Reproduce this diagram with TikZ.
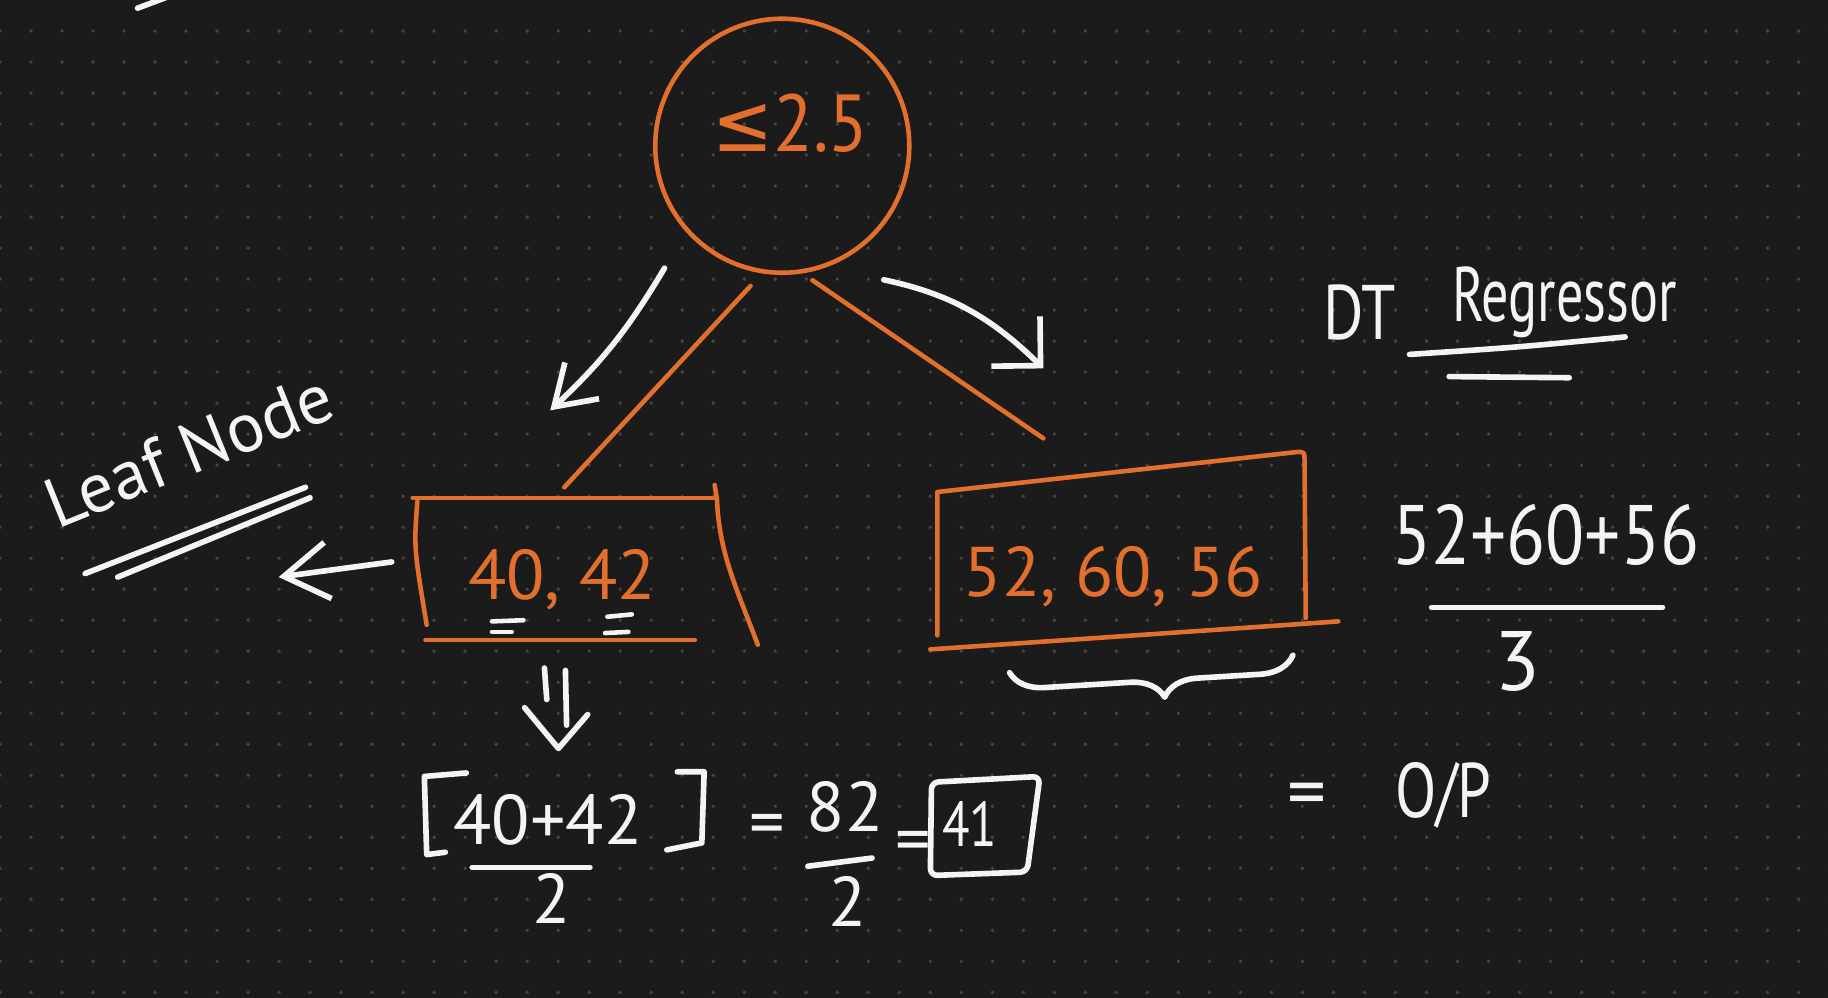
\documentclass[tikz,border=0pt]{standalone}
\usepackage{fontspec}
\usepackage{graphicx}
\setmainfont{PT Sans}
\newfontfamily\dejavu{DejaVu Sans}
\usetikzlibrary{arrows.meta,decorations.pathreplacing,positioning}

\definecolor{bgdark}{RGB}{27,27,27}
\definecolor{gridgrey}{RGB}{68,68,68}
\definecolor{leaforange}{RGB}{226,112,44}
\definecolor{chalk}{RGB}{244,244,244}

\newcommand{\handnarrow}[2]{\scalebox{#1}[1]{#2}}

\tikzset{
  hand/.style={font=\fontsize{20}{24}\selectfont},
  bighand/.style={font=\fontsize{22}{26}\selectfont},
  otext/.style={hand, text=leaforange, inner sep=0pt},
  wtext/.style={hand, text=chalk, inner sep=0pt},
  obranch/.style={draw=leaforange, line width=1.3pt, line cap=round, line join=round},
  wstroke/.style={draw=chalk, line width=1.6pt, line cap=round, line join=round},
  splitnode/.style={circle, draw=leaforange, line width=1.3pt, minimum size=25.4mm, inner sep=0pt},
}

\begin{document}
\begin{tikzpicture}[x=0.11658mm, y=-0.11658mm]

                % Board with dot grid
                \useasboundingbox (0,0) rectangle (1568,856);
                \fill[bgdark] (0,0) rectangle (1568,856);
                \foreach \i in {0,...,59} {
                    \foreach \j in {1,...,32} {
                        \fill[gridgrey] (\i*26.6,\j*26.6) circle[radius=0.55pt];
                    }
                }

                % Stroke cut off at the top
                \draw[wstroke] (118,7) -- (142,-2);

                % Root split
                \node[splitnode] (root) at (671,125) {};
                \node[otext, font=\fontsize{23}{27}\selectfont] (rootval) at (678,106) {\handnarrow{0.9}{{\dejavu ≤}2.5}};

                % Branches
                \coordinate (lefttip) at (484,418);
                \coordinate (righttip) at (895,376);
                \draw[obranch, shorten <=1.7mm] (root.261) -- (lefttip);
                \draw[obranch, shorten <=1.2mm] (root.279) -- (righttip);

                % Left leaf
                \node[otext] (leftval) at (482,497) {40, 42};
                \draw[obranch] (354,427) -- (615,427);
                \draw[obranch] (613,416) -- (615,429) .. controls (617,475) and (632,505) .. (650,553);
                \draw[obranch] (358,430) .. controls (355,470) .. (366,536);
                \draw[obranch] (365,549) -- (596,549);

                % Right leaf
                \node[otext] (rightval) at (955,495) {52, 60, 56};
                \draw[obranch] (804,545) -- (804,422) -- (1110,388) .. controls (1119,387) .. (1119,397) -- (1120,530);
                \draw[obranch] (798,557) -- (1148,533);

                % Ticks under the values
                \foreach \a/\b/\c/\d in {422/533/449/532, 422/542/439/542, 521/529/542/527, 519/543/539/542}
                    \draw[wstroke, line width=1.3pt] (\a,\b) -- (\c,\d);

                % Direction arrows
                \draw[wstroke, -{Straight Barb[angle=66:13pt]}] (570,230) to[bend left=8] (472,352);
                \draw[wstroke, -{Straight Barb[angle=90:14pt]}] (758,240) .. controls (815,252) and (850,272) .. (895,316);
                \draw[wstroke, -{Straight Barb[angle=65:15pt]}] (336,482) -- (239,495);

                % Leaf Node note
                \node[wtext, rotate=22] (leafnote) at (162,386) {Leaf Node};
                \draw[wstroke] (73,492) -- (262,418);
                \draw[wstroke] (101,495) -- (266,427);

                % Title
                \node[wtext, bighand] (dt) at (1166,268) {\handnarrow{0.8}{DT}};
                \node[wtext, bighand] (regname) at (1342,259) {\handnarrow{0.7}{Regressor}};
                \draw[wstroke] (1209,304) .. controls (1300,298) .. (1394,289);
                \draw[wstroke] (1243,323) -- (1346,324);

                % Mean of the right leaf
                \node[wtext, font=\fontsize{24}{28}\selectfont] (sumright) at (1326,459) {\handnarrow{0.85}{52+60+56}};
                \draw[wstroke] (1228,521) -- (1426,521);
                \node[wtext, font=\fontsize{24}{28}\selectfont] (three) at (1302,567) {3};
                \node[wtext, bighand] (eqc) at (1121,687) {=};
                \node[wtext, bighand] (outp) at (1238,682) {\handnarrow{0.78}{O/P}};

                % Brace under the right leaf
                \draw[wstroke, decorate, decoration={brace, mirror, amplitude=3.4mm, aspect=0.54}] (866,577) -- (1109,562);

                % Mean of the left leaf
                \draw[wstroke] (467,573) -- (469,600);
                \draw[wstroke] (485,575) -- (486,622);
                \draw[wstroke] (450,607) -- (479,642) -- (504,613);

                \draw[wstroke] (400,663) -- (364,666) -- (366,733) -- (382,731);
                \node[wtext] (sumleft) at (470,703) {40+42};
                \draw[wstroke] (405,744) -- (506,744);
                \node[wtext] (twoleft) at (473,771) {2};
                \draw[wstroke] (581,662) -- (604,662) -- (602,723) -- (572,729);
                \node[wtext] (eqa) at (658,712) {=};
                \node[wtext] (eighty) at (725,692) {82};
                \draw[wstroke] (693,743) -- (748,736);
                \node[wtext] (twomid) at (727,773) {2};
                \node[wtext] (eqb) at (783,727) {=};
                \draw[wstroke, rounded corners=2pt] (799,671) -- (892,666) -- (881,748) -- (798,751) -- cycle;
                \node[wtext, font=\fontsize{18}{22}\selectfont] (answer) at (832,707) {\handnarrow{0.8}{41}};
            \end{tikzpicture}
\end{document}
